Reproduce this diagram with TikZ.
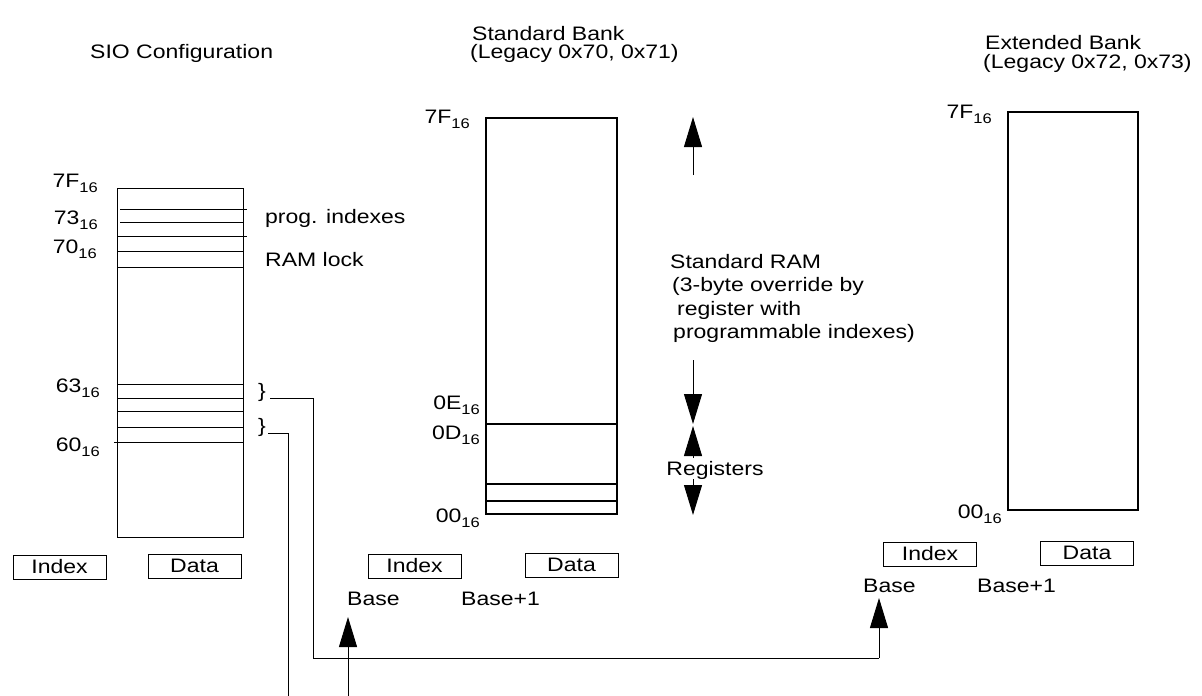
\documentclass[tikz,border=0pt]{standalone}
\usepackage{fontspec}
\setmainfont{Liberation Sans}[FakeStretch=1.18]
\usetikzlibrary{arrows.meta}
\newcommand\hexlab[1]{#1\raisebox{-5pt}{\fontsize{14}{14}\selectfont 16}}
\begin{document}
\begin{tikzpicture}[x=1pt,y=-1pt,
  txt/.style={inner sep=0pt, font=\fontsize{19.5}{23.5}\selectfont},
  thinline/.style={line width=1pt},
  thickline/.style={line width=2pt},
  regbox/.style={draw, line width=1pt, inner sep=0pt, minimum width=93pt, minimum height=24pt, font=\fontsize{19.5}{23.5}\selectfont},
  link/.style={line width=1pt},
  bigarrow/.style={line width=1pt, -{Triangle[length=30pt,width=18pt]}}]
\useasboundingbox (0,0) rectangle (1202,696);

% ---------- titles
\node[txt, anchor=base west] (siot) at (90,58) {SIO Configuration};
\node[txt, anchor=base west] (stdt) at (472,40) {Standard Bank};
\node[txt, anchor=base west] (stdt2) at (470,58) {(Legacy 0x70, 0x71)};
\node[txt, anchor=base west] (extt) at (985,49) {Extended Bank};
\node[txt, anchor=base west] (extt2) at (983,68) {(Legacy 0x72, 0x73)};

% ---------- SIO configuration block
\draw[thinline] (117,188) rectangle (243,537);
\draw[thinline] (120,209) -- (247,209);
\draw[thinline] (120,222) -- (243,222);
\draw[thinline] (117,236) -- (247,236);
\foreach \yy in {251,267,384,398,411,427} \draw[thinline] (117,\yy) -- (243,\yy);
\draw[thinline] (114,442) -- (243,442);

\node[txt, anchor=base east] (s7f) at (98,187) {\hexlab{7F}};
\node[txt, anchor=base east] (s73) at (98,224) {\hexlab{73}};
\node[txt, anchor=base east] (s70) at (97,253) {\hexlab{70}};
\node[txt, anchor=base east] (s63) at (100,392) {\hexlab{63}};
\node[txt, anchor=base east] (s60) at (100,451) {\hexlab{60}};
\node[txt, anchor=base west] (prog) at (265,223) {prog. indexes};
\node[txt, anchor=base west] (lock) at (265,266) {RAM lock};
\node[txt] (br1) at (262,392) {\}};
\node[txt] (br2) at (262,427) {\}};

\node[regbox] (sioidx) at (59.5,567) {Index};
\node[regbox] (siodat) at (194.5,566) {Data};

% ---------- Standard bank
\draw[thickline] (486,118) rectangle (617,514);
\draw[thickline] (486,424) -- (617,424);
\draw[thickline] (486,484) -- (617,484);
\draw[thickline] (486,501) -- (617,501);
\node[txt, anchor=base east] (t7f) at (470,123) {\hexlab{7F}};
\node[txt, anchor=base east] (t0e) at (480,409) {\hexlab{0E}};
\node[txt, anchor=base east] (t0d) at (480,439) {\hexlab{0D}};
\node[txt, anchor=base east] (t00) at (480,522) {\hexlab{00}};

\node[txt, anchor=base west] (sram1) at (670,268) {Standard RAM};
\node[txt, anchor=base west] (sram2) at (672,291) {(3-byte override by};
\node[txt, anchor=base west] (sram3) at (677,315) {register with};
\node[txt, anchor=base west] (sram4) at (673,338) {programmable indexes)};
\node[txt] (regs) at (715,470) {Registers};

\coordinate (a1s) at (693,175); \coordinate (a1e) at (693,117);
\coordinate (a2s) at (693,360); \coordinate (a2e) at (693,424);
\coordinate (a3s) at (693,458); \coordinate (a3e) at (693,426);
\coordinate (a4s) at (693,479); \coordinate (a4e) at (693,515);
\draw[bigarrow] (a1s) -- (a1e);
\draw[bigarrow] (a2s) -- (a2e);
\draw[bigarrow] (a3s) -- (a3e);
\draw[bigarrow] (a4s) -- (a4e);

\node[regbox] (stdidx) at (414.5,566) {Index};
\node[regbox] (stddat) at (571.5,565) {Data};
\node[txt, anchor=base west] (stdbase) at (347,605) {Base};
\node[txt, anchor=base west] (stdbase1) at (461,605) {Base+1};

% ---------- Extended bank
\draw[thickline] (1008,112) rectangle (1138,510);
\node[txt, anchor=base east] (e7f) at (992,118) {\hexlab{7F}};
\node[txt, anchor=base east] (e00) at (1002,518) {\hexlab{00}};
\node[regbox] (extidx) at (930,554) {Index};
\node[regbox] (extdat) at (1087,553) {Data};
\node[txt, anchor=base west] (extbase) at (863,592) {Base};
\node[txt, anchor=base west] (extbase1) at (977,592) {Base+1};

% ---------- connectors
\coordinate (c1a) at (270,398);
\coordinate (c1b) at (313,398);
\coordinate (c1c) at (313,658);
\coordinate (c1d) at (879,658);
\coordinate (extin) at (879,598);
\draw[link] (c1a) -- (c1b) -- (c1c) -- (c1d);
\draw[bigarrow] (c1d) -- (extin);

\coordinate (c2a) at (268,433);
\coordinate (c2b) at (288,433);
\coordinate (c2c) at (288,696);
\draw[link] (c2a) -- (c2b) -- (c2c);

\coordinate (stdfrom) at (348,696);
\coordinate (stdin) at (348,617);
\draw[bigarrow] (stdfrom) -- (stdin);
\end{tikzpicture}
\end{document}
